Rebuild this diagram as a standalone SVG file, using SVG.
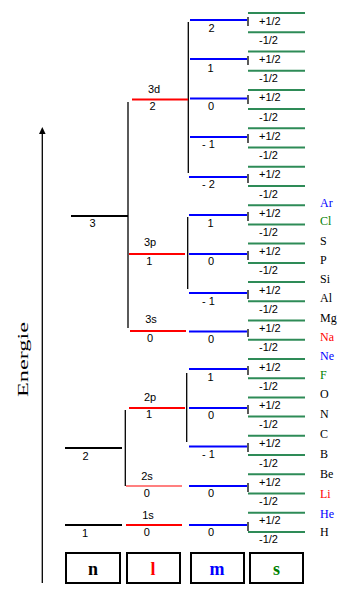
<svg xmlns="http://www.w3.org/2000/svg" width="359" height="595" viewBox="0 0 359 595">
<style>
.bk{stroke:#000;stroke-width:2}
.rd{stroke:#ff0000;stroke-width:2}
.bl{stroke:#0000ff;stroke-width:2}
.gr{stroke:#2e8b57;stroke-width:2}
.v{stroke:#000;stroke-width:1.3;fill:none}
.t{font-family:"Liberation Sans",Arial,sans-serif;font-size:11px;fill:#000}
.c{text-anchor:middle}
.e{font-family:"Liberation Serif","Times New Roman",serif;font-size:12px;fill:#000}
.box{fill:#fff;stroke:#000;stroke-width:2}
.bt{font-family:"Liberation Serif","Times New Roman",serif;font-size:18px;font-weight:bold;text-anchor:middle}
</style>
<rect width="359" height="595" fill="#fff"/>
<g id="energy-axis">
<line x1="42.3" y1="132" x2="42.3" y2="583" class="v"/>
<polygon points="42.3,127 39,134 45.6,134" fill="#000"/>
<text x="28" y="397" transform="rotate(-90 28 397)" font-family="Liberation Serif,Times New Roman,serif" font-size="15" textLength="75" lengthAdjust="spacingAndGlyphs">Energie</text>
</g>
<g id="connectors">
<line x1="128" y1="102" x2="128" y2="328" class="v"/>
<line x1="125.3" y1="410" x2="125.3" y2="486" class="v"/>
<line x1="188.3" y1="22" x2="188.3" y2="173" class="v"/>
<line x1="187.7" y1="217" x2="187.7" y2="289" class="v"/>
<line x1="186.7" y1="373" x2="186.7" y2="442" class="v"/>
<g class="v">
<line x1="248" y1="17" x2="248" y2="26"/>
<line x1="248" y1="56" x2="248" y2="65"/>
<line x1="248" y1="95" x2="248" y2="104"/>
<line x1="248" y1="134" x2="248" y2="143"/>
<line x1="248" y1="174" x2="248" y2="183"/>
<line x1="248" y1="212" x2="248" y2="221"/>
<line x1="248" y1="251" x2="248" y2="260"/>
<line x1="248" y1="290" x2="248" y2="299"/>
<line x1="248" y1="329" x2="248" y2="337"/>
<line x1="248" y1="366" x2="248" y2="375"/>
<line x1="248" y1="405" x2="248" y2="414"/>
<line x1="248" y1="443" x2="248" y2="452"/>
<line x1="248" y1="483" x2="248" y2="492"/>
<line x1="248" y1="522" x2="248" y2="531"/>
</g>
</g>
<g id="n-levels">
<g id="n3"><line x1="71" y1="216" x2="128" y2="216" class="bk"/><text x="92.5" y="227" class="t c">3</text></g>
<g id="n2"><line x1="65" y1="448" x2="122" y2="448" class="bk"/><text x="85.5" y="460" class="t c">2</text></g>
<g id="n1"><line x1="65" y1="525" x2="122" y2="525" class="bk"/><text x="85" y="537" class="t c">1</text></g>
</g>
<g id="l-levels">
<g id="l3d"><line x1="132" y1="99.5" x2="188" y2="99.5" class="rd"/><text x="154" y="93" class="t c">3d</text><text x="152.5" y="110" class="t c">2</text></g>
<g id="l3p"><line x1="129" y1="254" x2="185" y2="254" class="rd"/><text x="150" y="246" class="t c">3p</text><text x="149.3" y="265" class="t c">1</text></g>
<g id="l3s"><line x1="130" y1="331" x2="186" y2="331" class="rd"/><text x="151" y="323" class="t c">3s</text><text x="150" y="342" class="t c">0</text></g>
<g id="l2p"><line x1="129" y1="408" x2="185" y2="408" class="rd"/><text x="150" y="400.7" class="t c">2p</text><text x="149" y="418" class="t c">1</text></g>
<g id="l2s"><line x1="126" y1="486" x2="182" y2="486" stroke="#ff0000" stroke-width="1.2"/><text x="147" y="480" class="t c">2s</text><text x="146.7" y="497" class="t c">0</text></g>
<g id="l1s"><line x1="126" y1="525" x2="182" y2="525" class="rd"/><text x="148" y="518.5" class="t c">1s</text><text x="146.7" y="536" class="t c">0</text></g>
</g>
<g id="m-levels">
<g id="m3d2"><line x1="190" y1="20" x2="247" y2="20" class="bl"/><text x="211.5" y="32" class="t c">2</text></g>
<g id="m3d1"><line x1="190" y1="59" x2="247" y2="59" class="bl"/><text x="210.5" y="71.5" class="t c">1</text></g>
<g id="m3d0"><line x1="190" y1="98.5" x2="247" y2="98.5" class="bl"/><text x="211" y="110" class="t c">0</text></g>
<g id="m3dm1"><line x1="190" y1="137" x2="247" y2="137" class="bl"/><text x="202" y="148" class="t">- 1</text></g>
<g id="m3dm2"><line x1="189" y1="177" x2="247" y2="177" class="bl"/><text x="202" y="188" class="t">- 2</text></g>
<g id="m3p1"><line x1="189" y1="215" x2="247" y2="215" class="bl"/><text x="210.5" y="226.7" class="t c">1</text></g>
<g id="m3p0"><line x1="189" y1="254" x2="247" y2="254" class="bl"/><text x="211" y="265" class="t c">0</text></g>
<g id="m3pm1"><line x1="189" y1="293" x2="247" y2="293" class="bl"/><text x="202" y="305" class="t">- 1</text></g>
<g id="m3s0"><line x1="189" y1="331.5" x2="247" y2="331.5" class="bl"/><text x="211" y="342.7" class="t c">0</text></g>
<g id="m2p1"><line x1="189" y1="369" x2="247" y2="369" class="bl"/><text x="210.5" y="380.7" class="t c">1</text></g>
<g id="m2p0"><line x1="189" y1="408" x2="247" y2="408" class="bl"/><text x="211" y="419" class="t c">0</text></g>
<g id="m2pm1"><line x1="189" y1="446.5" x2="247" y2="446.5" class="bl"/><text x="202" y="457.7" class="t">- 1</text></g>
<g id="m2s0"><line x1="189" y1="486" x2="247" y2="486" class="bl"/><text x="211" y="496.7" class="t c">0</text></g>
<g id="m1s0"><line x1="189" y1="525" x2="247" y2="525" class="bl"/><text x="211" y="536" class="t c">0</text></g>
</g>
<g id="s-levels">
<g class="gr">
<line x1="248" y1="13" x2="305" y2="13"/><line x1="248" y1="32.2" x2="305" y2="32.2"/>
<line x1="248" y1="51.4" x2="305" y2="51.4"/><line x1="248" y1="70.7" x2="305" y2="70.7"/>
<line x1="248" y1="89.9" x2="305" y2="89.9"/><line x1="248" y1="109.1" x2="305" y2="109.1"/>
<line x1="248" y1="128.3" x2="305" y2="128.3"/><line x1="248" y1="147.5" x2="305" y2="147.5"/>
<line x1="248" y1="166.8" x2="305" y2="166.8"/><line x1="248" y1="186" x2="305" y2="186"/>
<line x1="248" y1="205.2" x2="305" y2="205.2"/><line x1="248" y1="224.4" x2="305" y2="224.4"/>
<line x1="248" y1="243.6" x2="305" y2="243.6"/><line x1="248" y1="262.9" x2="305" y2="262.9"/>
<line x1="248" y1="282.1" x2="305" y2="282.1"/><line x1="248" y1="301.3" x2="305" y2="301.3"/>
<line x1="248" y1="320.5" x2="305" y2="320.5"/><line x1="248" y1="339.7" x2="305" y2="339.7"/>
<line x1="248" y1="359" x2="305" y2="359"/><line x1="248" y1="378.2" x2="305" y2="378.2"/>
<line x1="248" y1="397.4" x2="305" y2="397.4"/><line x1="248" y1="416.6" x2="305" y2="416.6"/>
<line x1="248" y1="435.8" x2="305" y2="435.8"/><line x1="248" y1="455.1" x2="305" y2="455.1"/>
<line x1="248" y1="474.3" x2="305" y2="474.3"/><line x1="248" y1="493.5" x2="305" y2="493.5"/>
<line x1="248" y1="512.7" x2="305" y2="512.7"/><line x1="248" y1="531.9" x2="305" y2="531.9"/>
</g>
<g class="t">
<text x="259" y="24.5">+1/2</text><text x="259" y="43.7">-1/2</text>
<text x="259" y="62.9">+1/2</text><text x="259" y="82.2">-1/2</text>
<text x="259" y="101.4">+1/2</text><text x="259" y="120.6">-1/2</text>
<text x="259" y="139.8">+1/2</text><text x="259" y="159">-1/2</text>
<text x="259" y="178.3">+1/2</text><text x="259" y="197.5">-1/2</text>
<text x="259" y="216.7">+1/2</text><text x="259" y="235.9">-1/2</text>
<text x="259" y="255.1">+1/2</text><text x="259" y="274.4">-1/2</text>
<text x="259" y="293.6">+1/2</text><text x="259" y="312.8">-1/2</text>
<text x="259" y="332">+1/2</text><text x="259" y="351.2">-1/2</text>
<text x="259" y="370.5">+1/2</text><text x="259" y="389.7">-1/2</text>
<text x="259" y="408.9">+1/2</text><text x="259" y="428.1">-1/2</text>
<text x="259" y="447.3">+1/2</text><text x="259" y="466.6">-1/2</text>
<text x="259" y="485.8">+1/2</text><text x="259" y="505">-1/2</text>
<text x="259" y="524.2">+1/2</text><text x="259" y="543.4">-1/2</text>
</g>
</g>
<g id="elements" class="e">
<text x="320" y="207" fill="#0000ff">Ar</text>
<text x="320" y="225" fill="#008000">Cl</text>
<text x="320" y="245">S</text>
<text x="320" y="264">P</text>
<text x="320" y="283">Si</text>
<text x="320" y="302">Al</text>
<text x="320" y="321.5">Mg</text>
<text x="320" y="340.7" fill="#ff0000">Na</text>
<text x="320" y="360" fill="#0000ff">Ne</text>
<text x="320" y="379" fill="#008000">F</text>
<text x="320" y="398.3">O</text>
<text x="320" y="418.3">N</text>
<text x="320" y="438">C</text>
<text x="320" y="458">B</text>
<text x="320" y="478">Be</text>
<text x="320" y="498" fill="#ff0000">Li</text>
<text x="320" y="518" fill="#0000ff">He</text>
<text x="320" y="536">H</text>
</g>
<g id="legend">
<g id="box-n"><rect x="66" y="553" width="54" height="30" class="box"/><text x="93" y="575" class="bt" fill="#000">n</text></g>
<g id="box-l"><rect x="127" y="553" width="53" height="30" class="box"/><text x="153" y="575" class="bt" fill="#ff0000">l</text></g>
<g id="box-m"><rect x="191" y="553" width="53" height="30" class="box"/><text x="217" y="575" class="bt" fill="#0000ff">m</text></g>
<g id="box-s"><rect x="250" y="553" width="53" height="30" class="box"/><text x="276.5" y="575" class="bt" fill="#008000">s</text></g>
</g>
</svg>
